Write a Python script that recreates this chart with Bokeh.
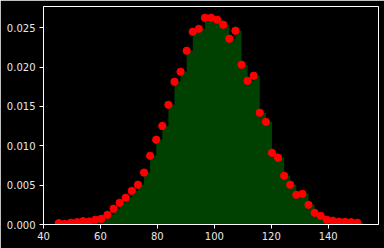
import numpy as np
from bokeh.plotting import figure
from bokeh.models import PrintfTickFormatter, FixedTicker, Range1d
from bokeh.embed import file_html
from bokeh.resources import INLINE

# Histogram data (density), 50 bins
x_min = 45.35
x_max = 152.35
n_bins = 50
heights = [0.000165, 0.00009, 0.00022, 0.00029, 0.00042, 0.00038, 0.0006, 0.00072,
           0.00123, 0.0020, 0.00276, 0.0034, 0.00428, 0.00505, 0.0066, 0.00873,
           0.01077, 0.01252, 0.01521, 0.01814, 0.01941, 0.02208, 0.02449, 0.02487,
           0.02627, 0.02627, 0.02602, 0.02538, 0.0236, 0.02462, 0.0203, 0.01826,
           0.0189, 0.0142, 0.01305, 0.00911, 0.00848, 0.00619, 0.00505, 0.00377,
           0.0039, 0.0025, 0.00149, 0.0011, 0.0006, 0.00047, 0.00036, 0.00034,
           0.00029, 0.00022]
x_ticks = [40, 60, 80, 100, 120, 140]
y_ticks = [0.0, 0.005, 0.010, 0.015, 0.020, 0.025]

edges = np.linspace(x_min, x_max, n_bins + 1)

p = figure(width=384, height=248, output_backend="svg", toolbar_location=None,
           x_range=Range1d(40.0, 157.67), y_range=Range1d(0, 0.0277),
           min_border_left=43, min_border_right=6, min_border_top=6, min_border_bottom=24,
           background_fill_color="black", border_fill_color="black")
p.outline_line_color = "white"
p.outline_line_width = 1
p.grid.visible = False

step_y = list(heights) + [heights[-1]]
p.varea_step(x=list(edges), y1=[0] * len(edges), y2=step_y, step_mode="after",
             fill_color="#004000")
p.scatter(list(edges[:-1]), heights, size=7.3, color="#ff0000", line_color="#ff0000")

for ax in (p.xaxis[0], p.yaxis[0]):
    ax.axis_line_color = "white"
    ax.major_tick_line_color = "white"
    ax.minor_tick_line_color = None
    ax.major_tick_out = 4
    ax.major_tick_in = 0
    ax.major_label_text_color = "#e8e8e8"
    ax.major_label_text_font = "DejaVu Sans"
    ax.major_label_text_font_size = "10px"

p.xaxis[0].major_label_standoff = 3
p.yaxis[0].major_label_standoff = 4
p.xaxis[0].ticker = FixedTicker(ticks=x_ticks)
p.yaxis[0].ticker = FixedTicker(ticks=y_ticks)
p.yaxis[0].formatter = PrintfTickFormatter(format="%.3f")

open("out.html", "w").write(file_html(p, INLINE))
